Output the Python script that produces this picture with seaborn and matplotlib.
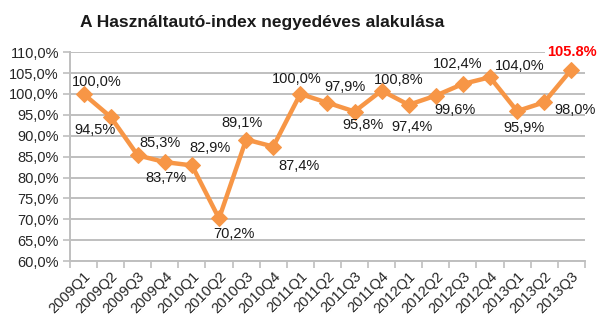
import matplotlib
matplotlib.use("Agg")
import matplotlib.pyplot as plt
import seaborn as sns
import pandas as pd
import numpy as np

# Quarterly used-car index values
quarters = ["2009Q1", "2009Q2", "2009Q3", "2009Q4", "2010Q1", "2010Q2", "2010Q3",
            "2010Q4", "2011Q1", "2011Q2", "2011Q3", "2011Q4", "2012Q1", "2012Q2",
            "2012Q3", "2012Q4", "2013Q1", "2013Q2", "2013Q3"]
index_values = [100.0, 94.5, 85.3, 83.7, 82.9, 70.2, 89.1, 87.4, 100.0, 97.9,
                95.8, 100.8, 97.4, 99.6, 102.4, 104.0, 95.9, 98.0, 105.8]
y_ticks = [60, 65, 70, 75, 80, 85, 90, 95, 100, 105, 110]

# Label placement (pixel offsets from each point: right, up)
label_offsets = [(13, 12), (-16, -13), (22, 12), (1, -16), (18, 17), (15, -16),
                 (-4, 17), (26, -19), (-4, 15), (18, 16), (8, -13), (17, 11),
                 (3, -22), (19, -14), (-5, 20), (30, 11), (7, -17), (31, -8),
                 (1, 18)]

LINE = "#F79646"
GRID = "#BFBFBF"
FONT = "Liberation Sans"

sns.set_theme(style="white")
plt.rcParams["font.family"] = [FONT, "DejaVu Sans"]

df = pd.DataFrame({"pos": np.arange(len(quarters)), "value": index_values})

fig = plt.figure(figsize=(6.0, 3.26), dpi=100)
ax = fig.add_axes([0.1167, 0.199, 0.858, 0.641])

sns.lineplot(data=df, x="pos", y="value", ax=ax, color=LINE, linewidth=3.2,
             marker="D", markersize=8, markeredgecolor=LINE, zorder=3)

ax.set_xlim(-0.5, len(quarters) - 0.5)
ax.set_ylim(60, 110)
ax.set_yticks(y_ticks)
ax.set_yticklabels([f"{t:.1f}%".replace(".", ",") for t in y_ticks], fontsize=10.5)
ax.yaxis.grid(True, color=GRID, linewidth=1.4)
ax.set_axisbelow(True)

ax.set_xticks(df["pos"])
ax.set_xticklabels(quarters, rotation=45, ha="right", rotation_mode="anchor",
                   fontsize=10.5)
ax.set_xticks(np.arange(-0.5, len(quarters)), minor=True)
ax.tick_params(axis="x", which="major", length=0, pad=6)
ax.tick_params(axis="x", which="minor", length=5, color=GRID, width=1.2,
               direction="out", bottom=True)
ax.tick_params(axis="y", length=5, color=GRID, width=1.2, direction="out",
               left=True, pad=3)
ax.set_xlabel("")
ax.set_ylabel("")

for s in ["top", "right"]:
    ax.spines[s].set_visible(False)
for s in ["left", "bottom"]:
    ax.spines[s].set_color(GRID)
    ax.spines[s].set_linewidth(1.4)

for i, (v, off) in enumerate(zip(index_values, label_offsets)):
    last = i == len(index_values) - 1
    text = f"{v:.1f}%" if last else f"{v:.1f}%".replace(".", ",")
    ax.annotate(text, (i, v), xytext=off, textcoords="offset pixels",
                ha="center", va="center", fontsize=10.5,
                color="#FF0000" if last else "#1a1a1a",
                fontweight="bold" if last else "normal",
                bbox=dict(boxstyle="square,pad=0.15", fc="white", ec="none") if last else None,
                annotation_clip=False, zorder=5)

fig.text(0.437, 0.932, "A Használtautó-index negyedéves alakulása",
         ha="center", va="center", fontsize=12.5, fontweight="bold", color="#1a1a1a")

fig.savefig("out.png", dpi=100, facecolor="white")
